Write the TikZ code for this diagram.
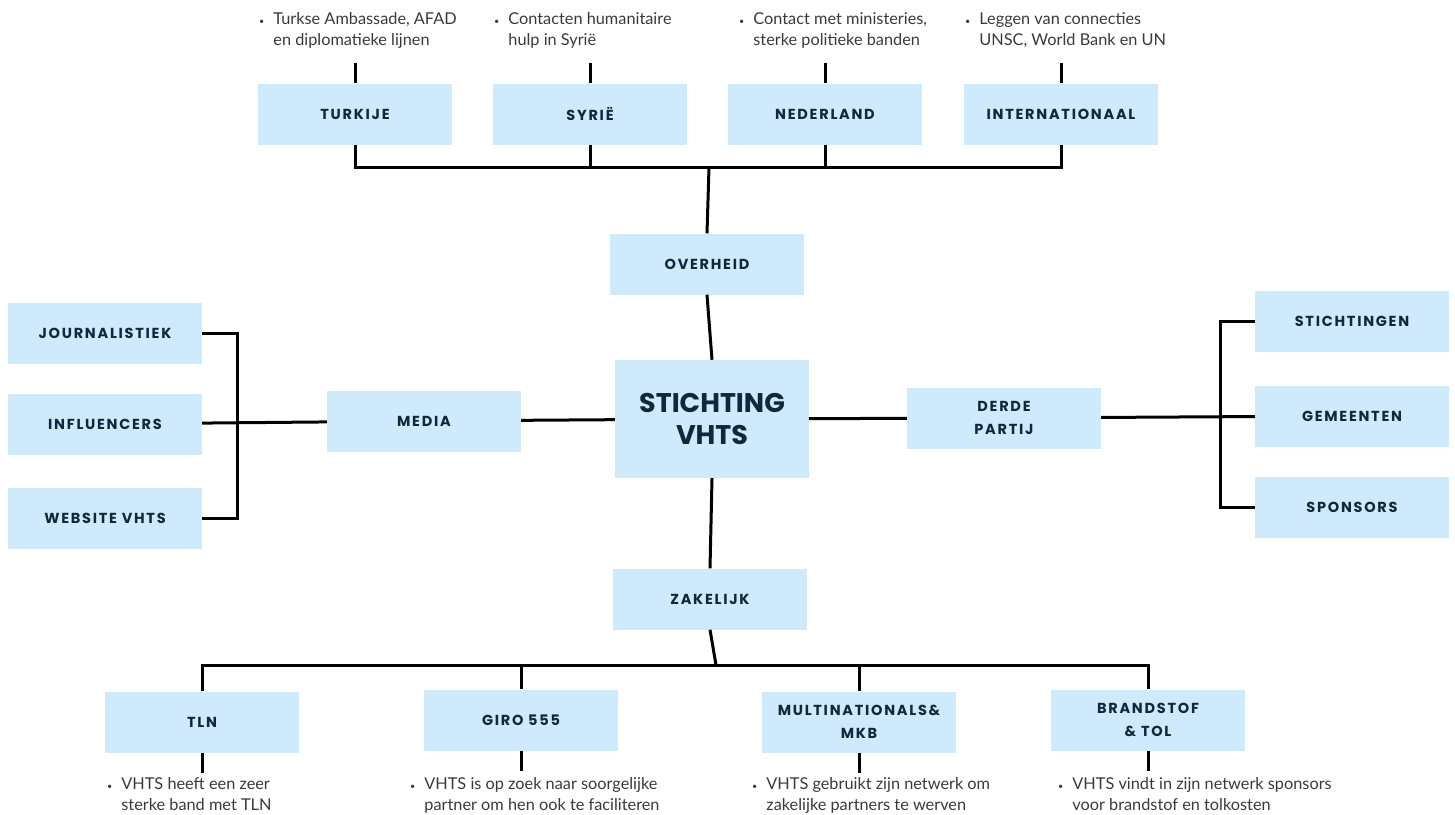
\documentclass[tikz,border=0pt]{standalone}
\usepackage{fontspec}
\setmainfont{Lato}
\newfontfamily\labelfont[LetterSpace=12]{Poppins}
\newfontfamily\titlefont{Poppins}
\usetikzlibrary{positioning}
\definecolor{boxblue}{HTML}{CFEAFB}
\definecolor{navy}{HTML}{10273F}
\definecolor{notegray}{HTML}{3A3A3A}
\newcommand{\bul}[2]{\begin{tabular}{@{}l@{\hspace{9pt}}l@{}}{\fontsize{9}{9}\selectfont\textbullet}&#1\\&#2\end{tabular}}

\begin{document}
\begin{tikzpicture}[
x=1pt, y=-1pt,
box/.style={fill=boxblue, minimum width=194pt, minimum height=61pt, inner sep=0pt,
            align=center, text=navy, font=\labelfont\bfseries\fontsize{14.5}{23}\selectfont},
mainbox/.style={box, minimum height=118pt, font=\titlefont\bfseries\fontsize{27}{32}\selectfont},
note/.style={anchor=north west, inner sep=0pt, text=notegray, font=\fontsize{16.3}{21}\selectfont},
link/.style={draw, line width=3pt}]
\useasboundingbox (0,0) rectangle (1455,814);
\node [mainbox] (vhts) at (712,419) {STICHTING\\VHTS};
\node [box] (overheid) at (707,264) {OVERHEID};
\node [box] (zakelijk) at (710,599) {ZAKELIJK};
\node [box] (media) at (424,421) {MEDIA};
\node [box] (derde) at (1004,418) {DERDE\\PARTIJ};
\node [box] (turkije) at (355,114) {TURKIJE};
\node [box] (syrie) at (590,114) {SYRIË};
\node [box] (nederland) at (825,114) {NEDERLAND};
\node [box] (internat) at (1061,114) {INTERNATIONAAL};
\node [box] (journ) at (105,333) {JOURNALISTIEK};
\node [box] (infl) at (105,424) {INFLUENCERS};
\node [box] (website) at (105,518) {WEBSITE VHTS};
\node [box] (stichtingen) at (1352,321) {STICHTINGEN};
\node [box] (gemeenten) at (1352,416) {GEMEENTEN};
\node [box] (sponsors) at (1352,507) {SPONSORS};
\node [box] (tln) at (202,722) {TLN};
\node [box] (giro) at (521,720) {GIRO 555};
\node [box] (multi) at (859,722) {MULTINATIONALS\&\\MKB};
\node [box] (brand) at (1148,720) {BRANDSTOF\\\& TOL};
\node [note] (turkijenote) at (259,10) {\bul{Turkse Ambassade, AFAD}{en diplomatieke lijnen}};
\node [note] (syrienote) at (494,10) {\bul{Contacten humanitaire}{hulp in Syrië}};
\node [note] (nederlandnote) at (739,10) {\bul{Contact met ministeries,}{sterke politieke banden}};
\node [note] (internatnote) at (965,10) {\bul{Leggen van connecties}{UNSC, World Bank en UN}};
\node [note] (tlnnote) at (107,775) {\bul{VHTS heeft een zeer}{sterke band met TLN}};
\node [note] (gironote) at (410,775) {\bul{VHTS is op zoek naar soorgelijke}{partner om hen ook te faciliteren}};
\node [note] (multinote) at (752,775) {\bul{VHTS gebruikt zijn netwerk om}{zakelijke partners te werven}};
\node [note] (brandnote) at (1058,775) {\bul{VHTS vindt in zijn netwerk sponsors}{voor brandstof en tolkosten}};
\coordinate (topbus) at (709,167);
\coordinate (botbus) at (716,665);
\coordinate (leftbus) at (237,424);
\coordinate (rightbus) at (1220,416);
\draw [link] (turkije.south) |- (internat.south |- topbus) -- (internat.south);
\draw [link] (syrie.south) -- (syrie.south |- topbus);
\draw [link] (nederland.south) -- (nederland.south |- topbus);
\draw [link] (topbus) -- (overheid.north);
\draw [link] (overheid.south) -- (vhts.north);
\draw [link] (media) -- (vhts);
\draw [link] (vhts) -- (derde);
\draw [link] (vhts.south) -- (zakelijk.north);
\draw [link] (zakelijk.south) -- (botbus);
\draw [link] (tln.north) |- (brand.north |- botbus) -- (brand.north);
\draw [link] (giro.north) -- (giro.north |- botbus);
\draw [link] (multi.north) -- (multi.north |- botbus);
\draw [link] (journ.east) -| (leftbus |- website.east) -- (website.east);
\draw [link] (infl) -- (media);
\draw [link] (stichtingen.west) -| (rightbus |- sponsors.west) -- (sponsors.west);
\draw [link] (derde) -- (gemeenten);
\draw [link] (turkije.north) -- ++(0,-20);
\draw [link] (syrie.north) -- ++(0,-20);
\draw [link] (nederland.north) -- ++(0,-20);
\draw [link] (internat.north) -- ++(0,-20);
\draw [link] (tln.south) -- ++(0,20);
\draw [link] (giro.south) -- ++(0,20);
\draw [link] (multi.south) -- ++(0,20);
\draw [link] (brand.south) -- ++(0,20);
\end{tikzpicture}
\end{document}
